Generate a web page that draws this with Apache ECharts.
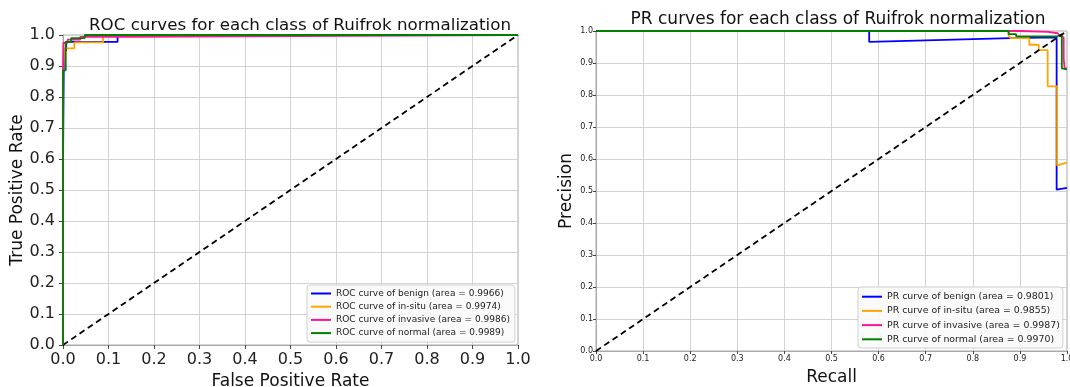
<!DOCTYPE html>
<html><head><meta charset="utf-8">
<script src="https://cdn.jsdelivr.net/npm/echarts@6/dist/echarts.min.js"></script>
<style>html,body{margin:0;padding:0;background:#fff}#c{width:1070px;height:387px}</style>
</head><body><div id="c"></div>
<script>
// ---- data ----
const tickLabels = ['0.0','0.1','0.2','0.3','0.4','0.5','0.6','0.7','0.8','0.9','1.0'];
const classNames = ['benign','in-situ','invasive','normal'];
const rocAreas = ['0.9966','0.9974','0.9986','0.9989'];
const prAreas = ['0.9801','0.9855','0.9987','0.9970'];
const diagonal = [[0,0],[1,1]];
// ROC curves [FPR, TPR]
const rocBenign = [[0,0],[0,0.58],[0.002,0.58],[0.002,0.95],[0.007,0.95],[0.007,0.978],[0.12,0.978],[0.12,1.0],[1,1]];
const rocInsitu = [[0,0],[0,0.88],[0.003,0.88],[0.003,0.957],[0.025,0.957],[0.025,0.976],[0.088,0.976],[0.088,1],[1,1]];
const rocInvasive = [[0,0],[0,0.88],[0.001,0.88],[0.001,0.975],[0.01,0.975],[0.01,0.985],[0.038,0.985],[0.038,0.994],[0.15,0.994],[0.15,1],[1,1]];
const rocNormal = [[0,0],[0,0.886],[0.006,0.886],[0.006,0.978],[0.018,0.978],[0.018,0.99],[0.048,0.99],[0.048,1],[1,1]];
// PR curves [Recall, Precision]
const prBenign = [[0,1],[0.58,1],[0.58,0.966],[0.88,0.978],[0.978,0.98],[0.978,0.504],[1.0,0.51]];
const prInsitu = [[0,1],[0.876,1],[0.876,0.985],[0.88,0.978],[0.92,0.978],[0.92,0.957],[0.94,0.957],[0.94,0.94],[0.959,0.94],[0.959,0.827],[0.979,0.827],[0.979,0.58],[1.0,0.589]];
const prInvasive = [[0,1],[0.9,1],[0.9,0.997],[0.96,0.997],[0.96,0.993],[0.98,0.993],[0.985,0.985],[0.993,0.98],[0.993,0.914],[0.995,0.914],[0.995,0.883],[1,0.883]];
const prNormal = [[0,1],[0.876,1],[0.876,0.99],[0.892,0.99],[0.892,0.983],[0.979,0.983],[0.989,0.99],[0.989,0.883],[1,0.88]];
const colors = ['#0000ff','#ffa500','#ff1493','#008000'];

// ---- chart ----
const FONT = 'DejaVu Sans';
const rocData = [rocBenign, rocInsitu, rocInvasive, rocNormal];
const prData = [prBenign, prInsitu, prInvasive, prNormal];
const rocNames = classNames.map((c,i)=>'ROC curve of '+c+' (area = '+rocAreas[i]+')');
const prNames = classNames.map((c,i)=>'PR curve of '+c+' (area = '+prAreas[i]+')');
const fmt = v => tickLabels[Math.round(v*10)] || '';

function axis(gi, big, isX, name, gap) {
  return {
    type:'value', gridIndex:gi, min:0, max:1, interval:0.1,
    name:name, nameLocation:'middle', nameGap:gap,
    nameTextStyle:{fontFamily:FONT, fontSize:17, color:'#111'},
    axisLine:{show:true, lineStyle:{color:'#aaa', width:1}},
    axisTick:{show:true, length: big?4:3, lineStyle:{color:'#444'}},
    axisLabel:{formatter:fmt, fontFamily:FONT, fontSize: big?16:8, color:'#222', margin: big?(isX?7:8):(isX?4:3)},
    splitLine:{show:true, lineStyle:{color:'#d3d3d3', width:1}}
  };
}
const series = [];
rocData.forEach((d,i)=>series.push({type:'line', name:rocNames[i], xAxisIndex:0, yAxisIndex:0, data:d, showSymbol:false, symbol:'none', color:colors[i], lineStyle:{width:1.8, color:colors[i]}, animation:false}));
series.push({type:'line', name:'diag1', xAxisIndex:0, yAxisIndex:0, data:diagonal, symbol:'none', lineStyle:{width:1.8, color:'#000', type:[6,4]}, animation:false, z:1});
prData.forEach((d,i)=>series.push({type:'line', name:prNames[i], xAxisIndex:1, yAxisIndex:1, data:d, showSymbol:false, symbol:'none', color:colors[i], lineStyle:{width:1.8, color:colors[i]}, animation:false}));
series.push({type:'line', name:'diag2', xAxisIndex:1, yAxisIndex:1, data:diagonal, symbol:'none', lineStyle:{width:1.8, color:'#000', type:[6,4]}, animation:false, z:3});

const legendCommon = {orient:'vertical', icon:'rect', itemWidth:20, itemHeight:2,
  backgroundColor:'rgba(250,250,250,0.9)', borderColor:'#d0d0d0', borderWidth:1, borderRadius:3};
const chart = echarts.init(document.getElementById('c'), null, {renderer:'canvas'});
chart.setOption({
  backgroundColor:'#fff',
  animation:false,
  title:[
    {text:'ROC curves for each class of Ruifrok normalization', left:295, top:12, textAlign:'center', textStyle:{fontFamily:FONT, fontSize:16.7, fontWeight:'normal', color:'#111'}},
    {text:'PR curves for each class of Ruifrok normalization', left:833, top:6.5, textAlign:'center', textStyle:{fontFamily:FONT, fontSize:17, fontWeight:'normal', color:'#111'}}
  ],
  grid:[
    {left:63, top:35, width:455, height:310, show:true, borderColor:'#aaa', borderWidth:1, outerBoundsMode:'none', containLabel:false},
    {left:596, top:31, width:471, height:320, show:true, borderColor:'#aaa', borderWidth:1, outerBoundsMode:'none', containLabel:false}
  ],
  xAxis:[axis(0,true,true,'False Positive Rate',25), axis(1,false,true,'Recall',18)],
  yAxis:[axis(0,true,false,'True Positive Rate',34), axis(1,false,false,'Precision',21)],
  legend:[
    Object.assign({}, legendCommon, {data:rocNames, left:307, top:285, itemGap:3.2, padding:[3.5,5,4,4], textStyle:{fontFamily:FONT, fontSize:9, lineHeight:10, color:'#222'}}),
    Object.assign({}, legendCommon, {data:prNames, left:858, top:287, itemGap:4.2, padding:[4.7,3,3.7,4], textStyle:{fontFamily:FONT, fontSize:9.4, lineHeight:10, color:'#222'}})
  ],
  series:series
});
</script></body></html>
